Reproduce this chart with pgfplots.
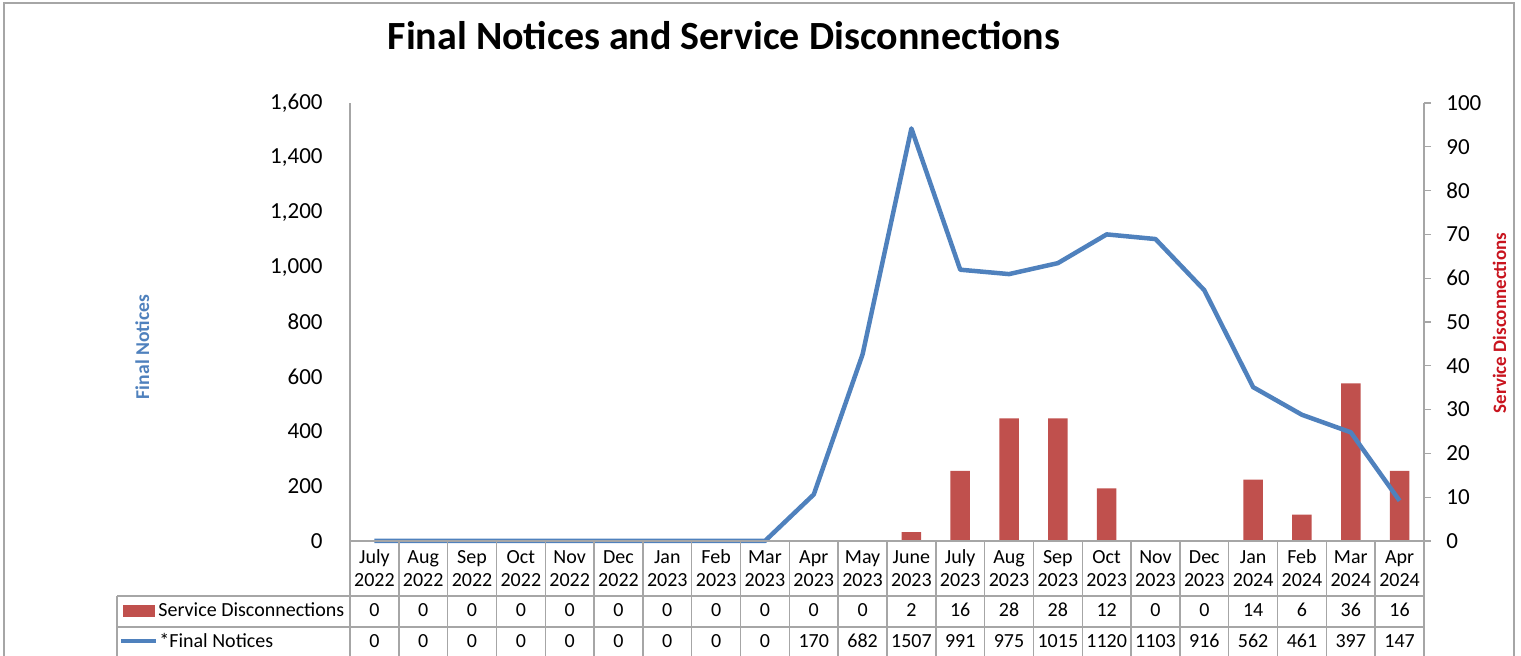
\documentclass[border=0pt]{standalone}
\usepackage{pgfplots}
\pgfplotsset{compat=1.18}
\usepackage{pgfplotstable}
\usepackage{fontspec}
\setmainfont{Carlito}
\definecolor{barred}{HTML}{C0504D}
\definecolor{lineblue}{HTML}{4F81BD}
\definecolor{gridgray}{HTML}{A6A6A6}
\definecolor{titleblue}{HTML}{4F81BD}
\definecolor{titlered}{HTML}{C8141E}

\pgfplotstableread{
x sd fn
0 0 0
1 0 0
2 0 0
3 0 0
4 0 0
5 0 0
6 0 0
7 0 0
8 0 0
9 0 170
10 0 682
11 2 1507
12 16 991
13 28 975
14 28 1015
15 12 1120
16 0 1103
17 0 916
18 14 562
19 6 461
20 36 397
21 16 147
}\datatable

\newcommand{\tabfont}{\fontsize{10}{11}\selectfont}
\newcommand{\tickfont}{\fontsize{11.5}{13}\selectfont}

\begin{document}
\begin{tikzpicture}
\begin{scope}[x=0.5pt,y=-0.5pt]
\draw[gridgray, line width=0.8pt] (4,656) -- (4,3) -- (1514,3) -- (1514,656);
\end{scope}

% bars on right axis
\begin{axis}[
  at={(175pt,-270.5pt)}, anchor=south west,
  scale only axis, width=537pt, height=219pt,
  xmin=-0.5, xmax=21.5, ymin=0, ymax=100,
  axis x line=none, axis y line*=right,
  axis line style={-, gridgray, line width=0.7pt},
  ytick={0,10,...,100},
  tick align=outside, major tick length=3.5pt,
  tick style={gridgray, line width=0.6pt},
  yticklabel style={font=\tickfont, inner sep=0pt, xshift=7.5pt},
  /pgf/number format/assume math mode=true,
  ybar, bar width=9.75pt,
]
\addplot[fill=barred, draw=none] table[x=x,y=sd]{\datatable};
\end{axis}

% line on left axis
\begin{axis}[
  at={(175pt,-270.5pt)}, anchor=south west,
  scale only axis, width=537pt, height=219pt,
  xmin=-0.5, xmax=21.5, ymin=0, ymax=1600,
  axis x line=none, axis y line*=left,
  axis line style={-, gridgray, line width=0.7pt},
  ytick={0,200,...,1600},
  major tick length=0pt,
  yticklabel style={font=\tickfont, inner sep=0pt, xshift=-13.5pt},
  /pgf/number format/.cd, 1000 sep={,}, assume math mode=true,
  /pgfplots/.cd,
  clip=false,
]
\addplot[lineblue, line width=2.25pt, line join=round, mark=none] table[x=x,y=fn]{\datatable};
\end{axis}

\begin{scope}[x=0.5pt,y=-0.5pt]
% title
\node[anchor=base, font=\fontsize{20}{24}\selectfont\bfseries] at (724,50) {Final Notices and Service Disconnections};
\node[rotate=90, anchor=base, text=titleblue, font=\fontsize{9.8}{12}\selectfont\bfseries] at (149,347) {Final Notices};
\node[rotate=90, anchor=base, text=titlered, font=\fontsize{9.5}{12}\selectfont\bfseries] at (1506,323) {Service Disconnections};

% table grid
\draw[gridgray, line width=0.7pt] (350,541) -- (1424,541);
\foreach \k in {0,...,22} \draw[gridgray, line width=0.7pt] (350+48.818*\k,541) -- (350+48.818*\k,656);
\draw[gridgray, line width=0.7pt] (117,596) -- (1424,596);
\draw[gridgray, line width=0.7pt] (117,627) -- (1424,627);
\draw[gridgray, line width=0.7pt] (117,596) -- (117,656);

% category labels
\foreach \m/\y [count=\i from 0] in {July/2022,Aug/2022,Sep/2022,Oct/2022,Nov/2022,Dec/2022,Jan/2023,Feb/2023,Mar/2023,Apr/2023,May/2023,June/2023,July/2023,Aug/2023,Sep/2023,Oct/2023,Nov/2023,Dec/2023,Jan/2024,Feb/2024,Mar/2024,Apr/2024}{
  \node[anchor=base, inner sep=0pt, font=\tabfont] at (374.4+48.818*\i,564) {\m};
  \node[anchor=base, inner sep=0pt, font=\tabfont] at (374.4+48.818*\i,587) {\y};
}
% row values
\foreach \v [count=\i from 0] in {0,0,0,0,0,0,0,0,0,0,0,2,16,28,28,12,0,0,14,6,36,16}{
  \node[anchor=base, inner sep=0pt, font=\tabfont] at (374.4+48.818*\i,617) {\v};
}
\foreach \v [count=\i from 0] in {0,0,0,0,0,0,0,0,0,170,682,1507,991,975,1015,1120,1103,916,562,461,397,147}{
  \node[anchor=base, inner sep=0pt, font=\tabfont] at (374.4+48.818*\i,648) {\v};
}
% legend keys
\fill[barred] (123,605) rectangle (155,617);
\node[anchor=base west, inner sep=0pt, font=\tabfont] at (158,617) {Service Disconnections};
\draw[lineblue, line width=2pt] (121,641) -- (156,641);
\node[anchor=base west, inner sep=0pt, font=\tabfont] at (159,648) {*Final Notices};

\pgfresetboundingbox
\path[use as bounding box] (0,0) rectangle (1521,656);
\end{scope}
\end{tikzpicture}
\end{document}
